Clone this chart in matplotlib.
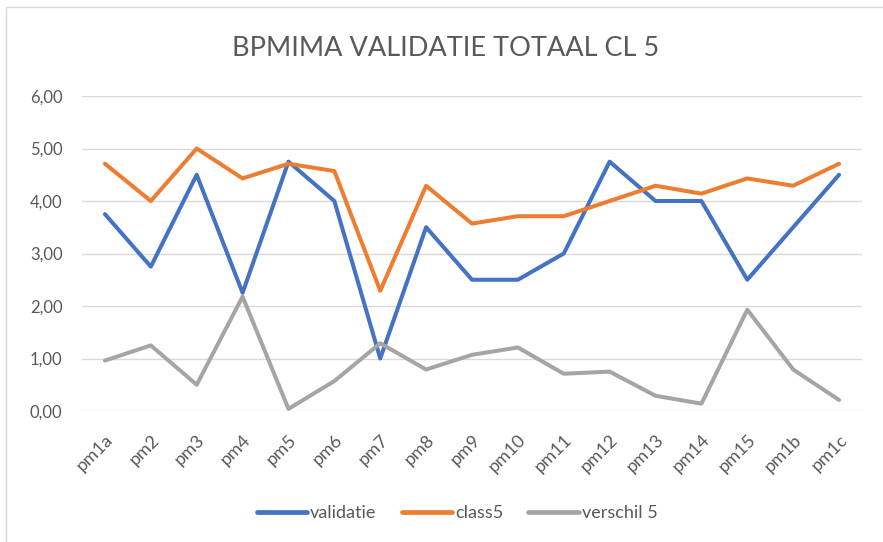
import matplotlib
matplotlib.use('Agg')
import matplotlib.pyplot as plt
from matplotlib.patches import Rectangle
import numpy as np

# data
categories = ['pm1a', 'pm2', 'pm3', 'pm4', 'pm5', 'pm6', 'pm7', 'pm8', 'pm9',
              'pm10', 'pm11', 'pm12', 'pm13', 'pm14', 'pm15', 'pm1b', 'pm1c']
validatie = [3.75, 2.75, 4.50, 2.25, 4.75, 4.00, 1.00, 3.50, 2.50,
             2.50, 3.00, 4.75, 4.00, 4.00, 2.50, 3.50, 4.50]
class5 = [4.71, 4.00, 5.00, 4.43, 4.71, 4.57, 2.29, 4.29, 3.57,
          3.71, 3.71, 4.00, 4.29, 4.14, 4.43, 4.29, 4.71]
verschil5 = [0.96, 1.25, 0.50, 2.18, 0.04, 0.57, 1.29, 0.79, 1.07,
             1.21, 0.71, 0.75, 0.29, 0.14, 1.93, 0.79, 0.21]
yticks = [0, 1, 2, 3, 4, 5, 6]
ytick_labels = ['0,00', '1,00', '2,00', '3,00', '4,00', '5,00', '6,00']

plt.rcParams['font.family'] = ['Lato', 'DejaVu Sans']

W, H = 883, 542
fig = plt.figure(figsize=(W / 100, H / 100), dpi=100)
ax = fig.add_axes([82 / W, (H - 411) / H, (862 - 82) / W, (411 - 96) / H])

# chart frame
fig.patches.append(Rectangle((6 / W, -0.1), 1.2, (H - 7) / H + 0.1,
                             transform=fig.transFigure, fill=False,
                             edgecolor='#D9D9D9', lw=1.0))

x = np.arange(len(categories))
series = [('validatie', validatie, '#4472C4'),
          ('class5', class5, '#ED7D31'),
          ('verschil 5', verschil5, '#A5A5A5')]
for name, vals, col in series:
    ax.plot(x, vals, color=col, lw=2.9, label=name,
            solid_joinstyle='round', solid_capstyle='round', zorder=3)

ax.set_xlim(-0.5, len(categories) - 0.5)
ax.set_ylim(0, 6)
ax.set_yticks(yticks)
ax.set_yticklabels(ytick_labels)
ax.set_xticks(x)
ax.set_xticklabels(categories, rotation=45, ha='right', rotation_mode='anchor')
ax.yaxis.grid(True, color='#D9D9D9', lw=1.0)
ax.set_axisbelow(True)
for s in ax.spines.values():
    s.set_visible(False)
ax.tick_params(length=0, colors='#595959')
ax.tick_params(axis='y', labelsize=12, pad=14)
ax.tick_params(axis='x', labelsize=13, pad=15)

fig.text(446 / W, (H - 48) / H, 'BPMIMA VALIDATIE TOTAAL CL 5',
         ha='center', va='center', fontsize=19.5, color='#595959')

leg = fig.legend(loc='center', bbox_to_anchor=(457 / W, (H - 513) / H), ncol=3,
                 frameon=False, fontsize=13, handlelength=2.8, handletextpad=0.15,
                 columnspacing=1.4, labelcolor='#595959')
for ln in leg.get_lines():
    ln.set_linewidth(3.4)

plt.savefig('out.png', dpi=100)
